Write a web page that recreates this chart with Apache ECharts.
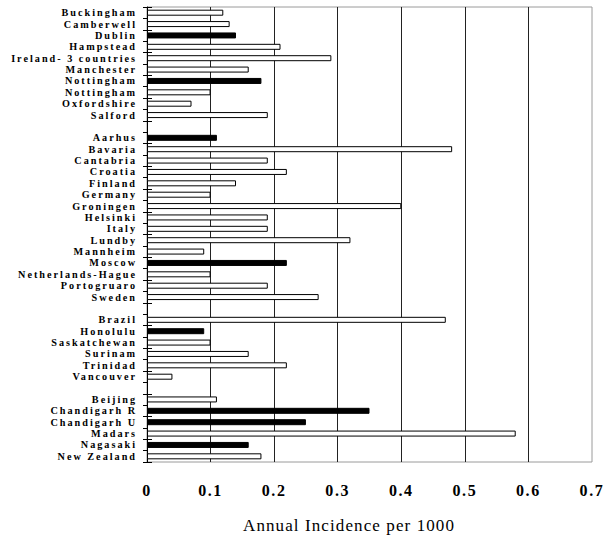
<!DOCTYPE html>
<html>
<head>
<meta charset="utf-8">
<script src="https://cdn.jsdelivr.net/npm/echarts@6/dist/echarts.min.js"></script>
<style>
  html, body { margin: 0; padding: 0; background: #fff; }
  #chart { width: 612px; height: 538px; }
</style>
</head>
<body>
<div id="chart"></div>
<script>
const categories = [
  'Buckingham', 'Camberwell', 'Dublin', 'Hampstead', 'Ireland- 3 countries', 'Manchester',
  'Nottingham', 'Nottingham', 'Oxfordshire', 'Salford', '',
  'Aarhus', 'Bavaria', 'Cantabria', 'Croatia', 'Finland', 'Germany', 'Groningen', 'Helsinki',
  'Italy', 'Lundby', 'Mannheim', 'Moscow', 'Netherlands-Hague', 'Portogruaro', 'Sweden', '',
  'Brazil', 'Honolulu', 'Saskatchewan', 'Surinam', 'Trinidad', 'Vancouver', '',
  'Beijing', 'Chandigarh R', 'Chandigarh U', 'Madars', 'Nagasaki', 'New Zealand'
];

const openValues = [
  0.12, 0.13, null, 0.21, 0.29, 0.16, null, 0.10, 0.07, 0.19, null,
  null, 0.48, 0.19, 0.22, 0.14, 0.10, 0.40, 0.19, 0.19, 0.32, 0.09, null, 0.10, 0.19, 0.27, null,
  0.47, null, 0.10, 0.16, 0.22, 0.04, null,
  0.11, null, null, 0.58, null, 0.18
];

const filledValues = [
  null, null, 0.14, null, null, null, 0.18, null, null, null, null,
  0.11, null, null, null, null, null, null, null, null, null, null, 0.22, null, null, null, null,
  null, 0.09, null, null, null, null, null,
  null, 0.35, 0.25, null, 0.16, null
];

const xTickLabels = ['0', '0.1', '0.2', '0.3', '0.4', '0.5', '0.6', '0.7'];
const xAxisTitle = 'Annual Incidence per 1000';

const chart = echarts.init(document.getElementById('chart'), null, { renderer: 'svg' });

function applySpacing() {
  const texts = document.querySelectorAll('#chart svg text');
  texts.forEach(function (el) {
    const fs = parseFloat(getComputedStyle(el).fontSize);
    let sp = 1.2;
    if (fs < 11) sp = 2.0;
    else if (fs >= 17) sp = 1.1;
    else if (fs >= 15) sp = 1.6;
    el.style.letterSpacing = sp + 'px';
  });
}
chart.on('finished', applySpacing);

chart.setOption({
  animation: false,
  backgroundColor: '#fff',
  title: {
    text: xAxisTitle,
    left: 238,
    top: 512,
    textStyle: { fontFamily: 'Liberation Serif', fontWeight: 'normal', fontSize: 17, color: '#000' }
  },
  grid: {
    left: 147, right: 20, top: 7, bottom: 76,
    show: true, borderColor: '#9a9a9a', borderWidth: 1, backgroundColor: 'transparent'
  },
  xAxis: {
    type: 'value', min: 0, max: 0.7, interval: 0.1,
    axisLine: { show: false },
    axisTick: { show: false },
    axisLabel: {
      margin: 20,
      fontFamily: 'Liberation Serif', fontWeight: 'bold', fontSize: 16, color: '#000',
      formatter: function (v) { return xTickLabels[Math.round(v * 10)]; }
    },
    splitLine: { show: true, showMinLine: false, showMaxLine: false, lineStyle: { color: '#222', width: 1 } }
  },
  yAxis: [
    {
      type: 'category', data: categories, inverse: true,
      axisLine: { show: true, lineStyle: { color: '#000', width: 1 } },
      axisTick: { show: true, length: 4, lineStyle: { color: '#000' } },
      axisLabel: {
        margin: 10, interval: 0, lineHeight: 11,
        fontFamily: 'Liberation Serif', fontWeight: 'bold', fontSize: 10.2, color: '#000'
      },
      splitLine: { show: false }
    },
    {
      type: 'category', data: categories, inverse: true, position: 'left', offset: 0,
      axisLine: { show: false },
      axisTick: { show: true, inside: true, length: 5, lineStyle: { color: '#000' } },
      axisLabel: { show: false },
      splitLine: { show: false }
    }
  ],
  series: [
    {
      type: 'bar', name: 'open', data: openValues, yAxisIndex: 0,
      barWidth: 6, barGap: '-100%',
      itemStyle: { color: '#fff', borderColor: '#000', borderWidth: 1 }
    },
    {
      type: 'bar', name: 'filled', data: filledValues, yAxisIndex: 0,
      barWidth: 6, barGap: '-100%',
      itemStyle: { color: '#000', borderColor: '#000', borderWidth: 1 }
    }
  ]
});
applySpacing();
setTimeout(applySpacing, 50);
setTimeout(applySpacing, 300);
</script>
</body>
</html>
